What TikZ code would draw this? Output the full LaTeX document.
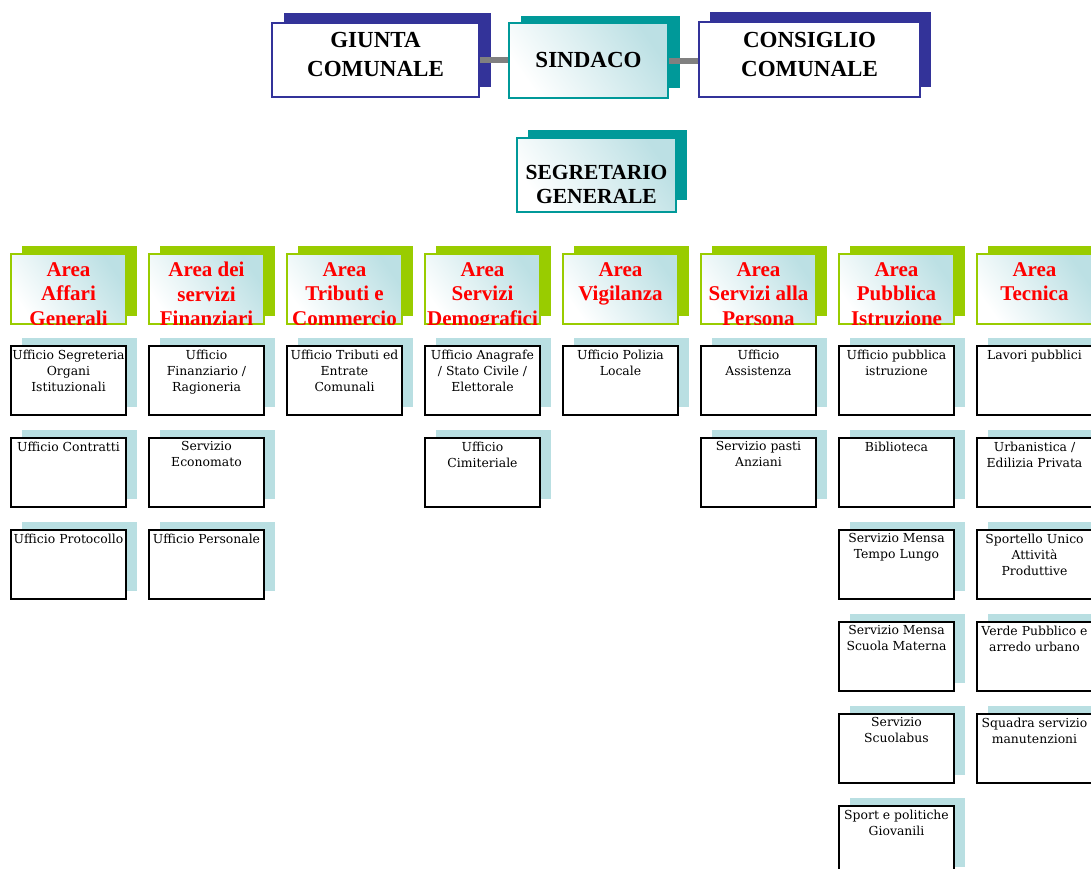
\documentclass[tikz,border=0pt]{standalone}
\usepackage{fontspec}
\setmainfont{Liberation Serif}
\newfontfamily\offfont{DejaVu Serif}
\usetikzlibrary{calc}
\definecolor{navyc}{HTML}{333399}
\definecolor{tealc}{HTML}{009999}
\definecolor{limec}{HTML}{99CC00}
\definecolor{shadowc}{HTML}{B9DFE2}
\definecolor{gradc}{HTML}{BCE0E4}
\definecolor{connc}{HTML}{808080}
\definecolor{redc}{HTML}{FF0000}
\tikzset{
  topbox/.style={draw=navyc, line width=1.6pt, fill=white, inner sep=0pt},
  tealbox/.style={draw=tealc, line width=1.6pt, inner sep=0pt, shade, left color=white, right color=gradc, shading angle=125},
  toptext/.style={font=\fontsize{23}{29}\selectfont\bfseries, align=center, inner sep=0pt},
  areabox/.style={draw=limec, line width=2pt, minimum width=115pt, minimum height=70pt, inner sep=0pt, shade, left color=white, right color=gradc, shading angle=125},
  areatext/.style={font=\fontsize{21}{24.5}\selectfont\bfseries, text=redc, align=center, inner sep=0pt, anchor=north},
  offbox/.style={draw=black, line width=2.2pt, fill=white, minimum width=115pt, minimum height=69pt, inner sep=0pt},
  offtext/.style={font=\offfont\fontsize{12.4}{16}\selectfont, align=center, inner sep=0pt, anchor=north},
  conn/.style={draw=connc, line width=6pt},
}
\newcommand{\mkarea}[3]{%
  \pgfmathsetmacro{\cx}{68.5+138*#2}%
  \fill[limec] (\cx-46.5, 246) rectangle ++(115,70);
  \node[areabox] (#1) at (\cx, 289) {};
  \begin{scope}
    \clip ($(#1.north west)+(1,1)$) rectangle ($(#1.south east)+(-1,-1)$);
    \node[areatext] (#1t) at ($(#1.north)+(0,9)$) {#3};
  \end{scope}
}
\newcommand{\mkoff}[4]{%
  \pgfmathsetmacro{\cx}{68.5+138*#2}%
  \pgfmathsetmacro{\ty}{346+92*#3}%
  \fill[shadowc] (\cx-46.5, \ty-8) rectangle ++(115,69);
  \node[offbox] (#1) at (\cx, \ty+34.5) {};
  \node[offtext] (#1t) at ($(#1.north)+(0,4.5)$) {#4};
}
\begin{document}
\begin{tikzpicture}[x=1pt, y=-1pt]
\useasboundingbox (0,0) rectangle (1091,868);
% top row
\fill[navyc] (284,13) rectangle ++(207,74);
\node[topbox, minimum width=207pt, minimum height=74pt] (giunta) at (375.5,60) {};
\node[toptext] (giuntat) at (375.5,54) {GIUNTA\\COMUNALE};
\fill[tealc] (521,16) rectangle ++(159,72);
\node[tealbox, minimum width=159pt, minimum height=75pt] (sindaco) at (588.5,60.5) {};
\node[toptext] (sindacot) at (588.5,60) {SINDACO};
\fill[navyc] (710,12) rectangle ++(221,75);
\node[topbox, minimum width=221pt, minimum height=75pt] (consiglio) at (809.5,59.5) {};
\node[toptext] (consigliot) at (809.5,54) {CONSIGLIO\\COMUNALE};
\draw[conn] (giunta.east) -- (giunta.east -| sindaco.west);
\draw[conn] (sindaco.east) -- (sindaco.east -| consiglio.west);
% segretario
\fill[tealc] (528,130) rectangle ++(159,70);
\node[tealbox, minimum width=159pt, minimum height=74pt] (segretario) at (596.5,175) {};
\node[toptext, font=\fontsize{21.5}{24}\selectfont\bfseries] (segretariot) at (596.5,184) {SEGRETARIO\\GENERALE};
% areas
\mkarea{a1}{0}{Area\\Affari\\Generali}
\mkarea{a2}{1}{Area dei\\servizi\\Finanziari}
\mkarea{a3}{2}{Area\\Tributi e\\Commercio}
\mkarea{a4}{3}{Area\\Servizi\\Demografici}
\mkarea{a5}{4}{Area\\Vigilanza}
\mkarea{a6}{5}{Area\\Servizi alla\\Persona}
\mkarea{a7}{6}{Area\\Pubblica\\Istruzione}
\mkarea{a8}{7}{Area\\Tecnica}
% offices
\mkoff{o11}{0}{0}{Ufficio Segreteria\\Organi\\Istituzionali}
\mkoff{o12}{0}{1}{Ufficio Contratti}
\mkoff{o13}{0}{2}{Ufficio Protocollo}
\mkoff{o21}{1}{0}{Ufficio\\Finanziario /\\Ragioneria}
\mkoff{o22}{1}{1}{Servizio\\Economato}
\mkoff{o23}{1}{2}{Ufficio Personale}
\mkoff{o31}{2}{0}{Ufficio Tributi ed\\Entrate\\Comunali}
\mkoff{o41}{3}{0}{Ufficio Anagrafe\\/ Stato Civile /\\Elettorale}
\mkoff{o42}{3}{1}{Ufficio\\Cimiteriale}
\mkoff{o51}{4}{0}{Ufficio Polizia\\Locale}
\mkoff{o61}{5}{0}{Ufficio\\Assistenza}
\mkoff{o62}{5}{1}{Servizio pasti\\Anziani}
\mkoff{o71}{6}{0}{Ufficio pubblica\\istruzione}
\mkoff{o72}{6}{1}{Biblioteca}
\mkoff{o73}{6}{2}{Servizio Mensa\\Tempo Lungo}
\mkoff{o74}{6}{3}{Servizio Mensa\\Scuola Materna}
\mkoff{o75}{6}{4}{Servizio\\Scuolabus}
\mkoff{o76}{6}{5}{Sport e politiche\\Giovanili}
\mkoff{o81}{7}{0}{Lavori pubblici}
\mkoff{o82}{7}{1}{Urbanistica /\\Edilizia Privata}
\mkoff{o83}{7}{2}{Sportello Unico\\Attività\\Produttive}
\mkoff{o84}{7}{3}{Verde Pubblico e\\arredo urbano}
\mkoff{o85}{7}{4}{Squadra servizio\\manutenzioni}
\end{tikzpicture}
\end{document}
